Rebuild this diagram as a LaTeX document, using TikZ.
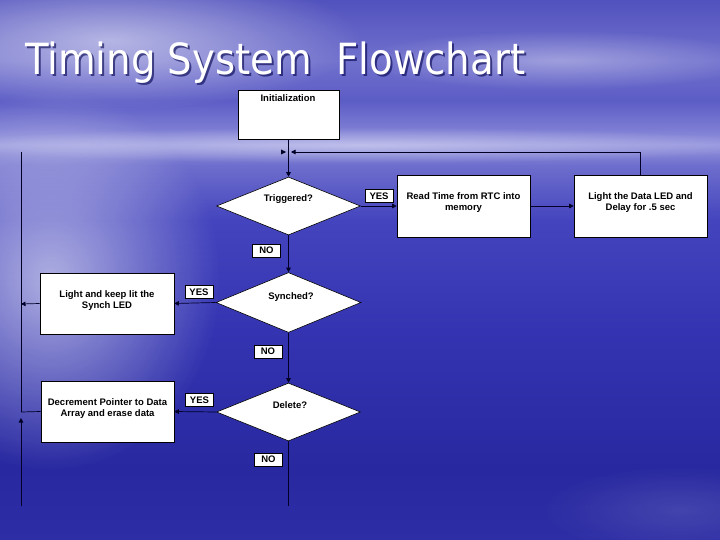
\documentclass[tikz,border=0pt]{standalone}
\usepackage{fontspec}
\setmainfont{Liberation Sans}
\newfontfamily\titlefont{DejaVu Sans Condensed}
\usetikzlibrary{shapes.geometric,arrows.meta,fadings}
\definecolor{bgA}{RGB}{45,45,165}
\definecolor{bgB}{RGB}{40,40,160}
\definecolor{bgC}{RGB}{52,52,178}
\definecolor{bgD}{RGB}{68,68,190}
\definecolor{bgE}{RGB}{110,110,205}
\definecolor{bgF}{RGB}{150,150,222}
\definecolor{bgG}{RGB}{125,125,212}
\definecolor{bgH}{RGB}{92,92,198}
\definecolor{bgI}{RGB}{112,112,205}
\definecolor{bgJ}{RGB}{82,82,190}
\pgfdeclareverticalshading{oceansky}{100bp}{%
  color(0bp)=(bgA);
  color(25bp)=(bgA);
  color(31.5bp)=(bgB);
  color(44.4bp)=(bgC);
  color(54.6bp)=(bgD);
  color(59.7bp)=(bgE);
  color(61.6bp)=(bgF);
  color(63bp)=(bgG);
  color(65.7bp)=(bgH);
  color(69.4bp)=(bgI);
  color(75bp)=(bgJ);
  color(100bp)=(bgJ)}
\tikzfading[name=glow, inner color=transparent!35, outer color=transparent!100]
\tikzset{
  box/.style={draw=black, fill=white, line width=0.6pt, inner sep=2pt, align=center,
    font=\fontsize{9.5}{11}\selectfont\bfseries},
  dia/.style={diamond, draw=black, fill=white, line width=0.6pt, inner sep=0pt, aspect=2.5},
  tag/.style={draw=black, fill=white, line width=0.5pt, minimum width=28pt, minimum height=13pt,
    inner sep=1pt, font=\fontsize{9.5}{11}\selectfont\bfseries},
  txt/.style={align=center, font=\fontsize{9.5}{11}\selectfont\bfseries},
  conn/.style={draw=black!85!blue, line width=0.7pt},
  arr/.style={conn, -{Triangle[length=4.5pt,width=4.5pt]}},
  titlestyle/.style={anchor=base west, inner sep=0},
}
\begin{document}
\begin{tikzpicture}[x=1pt,y=-1pt]
\useasboundingbox (0,0) rectangle (720,540);
% background
\shade[shading=oceansky] (0,0) rectangle (720,540);
\fill[white, path fading=glow, opacity=0.9] (50,280) ellipse (170 and 190);
\fill[white, path fading=glow, opacity=0.8] (110,40) ellipse (250 and 70);
\fill[white, path fading=glow, opacity=0.5] (560,60) ellipse (200 and 30);
\fill[white, path fading=glow, opacity=0.6] (360,145) ellipse (420 and 18);
\fill[white, path fading=glow, opacity=0.18] (680,510) ellipse (140 and 45);
% title
\node[titlestyle, text=black!70!blue, opacity=0.6] at (27,77)
  {\resizebox{500pt}{!}{\titlefont\fontsize{46}{50}\selectfont Timing System\ \ Flowchart}};
\node (title) [titlestyle, text=white] at (25,75)
  {\resizebox{500pt}{!}{\titlefont\fontsize{46}{50}\selectfont Timing System\ \ Flowchart}};
% nodes
\node (init) [box, minimum width=101pt, minimum height=49pt] at (288.5,114.5) {};
\node (initt) [txt, anchor=north] at (288,91) {Initialization};
\node (trig) [dia, minimum width=144pt, minimum height=58pt] at (288.5,206) {};
\node (trigt) [txt] at (288.5,199) {Triggered?};
\node (read) [box, minimum width=133pt, minimum height=62pt] at (463.5,206) {};
\node (readt) [txt] at (463.5,203) {Read Time from RTC into\\memory};
\node (light) [box, minimum width=133pt, minimum height=62pt] at (640.5,206) {};
\node (lightt) [txt] at (640.5,203) {Light the Data LED and\\Delay for .5 sec};
\node (sync) [dia, minimum width=145pt, minimum height=60pt] at (288.5,302.5) {};
\node (synct) [txt] at (291,297) {Synched?};
\node (synch) [box, minimum width=134pt, minimum height=61pt] at (107,303.5) {};
\node (syncht) [txt] at (107,300.5) {Light and keep lit the\\Synch LED};
\node (del) [dia, minimum width=144pt, minimum height=58pt] at (288.5,412) {};
\node (delt) [txt] at (290,405) {Delete?};
\node (dec) [box, minimum width=133pt, minimum height=61pt] at (107.5,411.5) {};
\node (dect) [txt] at (107.5,408.5) {Decrement Pointer to Data\\Array and erase data};
% yes / no tags
\node (yes1) [tag] at (379,196) {YES};
\node (no1) [tag] at (266.5,250.5) {NO};
\node (yes2) [tag] at (199,292) {YES};
\node (no2) [tag] at (268,351.5) {NO};
\node (yes3) [tag] at (199.5,400) {YES};
\node (no3) [tag] at (268.5,459.5) {NO};
% coordinates
\coordinate (fb) at (291,152);
\coordinate (ltop) at (21,152);
\coordinate (lsync) at (21,304);
\coordinate (ldec) at (21,412);
\coordinate (lbot) at (21,506);
\coordinate (larr) at (21,418);
\coordinate (dbot) at (288.5,506);
% connectors
\draw[arr] (init.south) -- (trig.north);
\draw[arr] (trig.east) -- (read.west);
\draw[arr] (read.east) -- (light.west);
\draw[arr] (light.north) |- (fb);
\fill[black!85!blue] (281,149.5) -- (286,152) -- (281,154.5) -- cycle;
\draw[arr] (trig.south) -- (sync.north);
\draw[arr] (sync.west) -- (synch.east);
\draw[arr] (sync.south) -- (del.north);
\draw[arr] (del.west) -- (dec.east);
\draw[conn] (del.south) -- (dbot);
\draw[conn] (ltop) -- (ldec);
\draw[arr] (synch.west) -- (lsync);
\draw[conn] (dec.west) -- (ldec);
\draw[arr] (lbot) -- (larr);
\end{tikzpicture}
\end{document}
